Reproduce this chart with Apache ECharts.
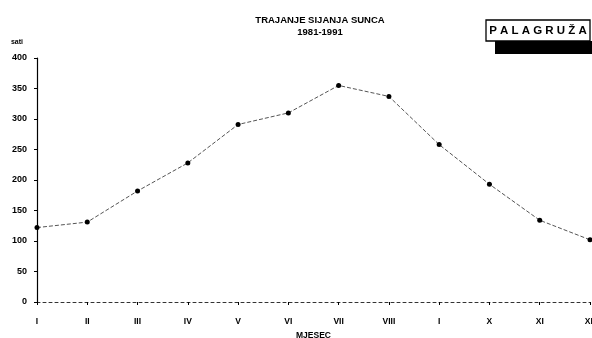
<!DOCTYPE html>
<html>
<head>
<meta charset="utf-8">
<script src="https://cdn.jsdelivr.net/npm/echarts@6/dist/echarts.min.js"></script>
<style>
  html, body { margin: 0; padding: 0; background: #fff; }
  #chart { width: 592px; height: 338px; }
</style>
</head>
<body>
<div id="chart"></div>
<script>
// Monthly sunshine duration (hours), Palagruža 1981-1991
const months = ['I', 'II', 'III', 'IV', 'V', 'VI', 'VII', 'VIII', 'I', 'X', 'XI', 'XII'];
const sunshineHours = [122, 131, 182, 228, 291, 310, 355, 337, 258, 193, 134, 102];
const yTicks = [0, 50, 100, 150, 200, 250, 300, 350, 400];

const FONT = '"Liberation Sans", Arial, sans-serif';

const chart = echarts.init(document.getElementById('chart'), null, { renderer: 'canvas' });

chart.setOption({
  backgroundColor: '#ffffff',
  animation: false,
  title: {
    text: 'TRAJANJE SIJANJA SUNCA\n1981-1991',
    left: 315,
    top: 9,
    textAlign: 'center',
    textStyle: { fontFamily: FONT, fontWeight: 'bold', fontSize: 9.5, color: '#000', lineHeight: 12 }
  },
  grid: { left: 37, right: 2, top: 58, bottom: 36, containLabel: false, outerBoundsMode: 'none' },
  xAxis: {
    type: 'category',
    data: months,
    boundaryGap: false,
    name: 'MJESEC',
    nameLocation: 'middle',
    nameGap: 27,
    nameTextStyle: { fontFamily: FONT, fontWeight: 'bold', fontSize: 8.5, color: '#000' },
    axisLine: { show: true, onZero: true, lineStyle: { color: '#333', width: 1, type: [3, 3] } },
    axisTick: { show: true, alignWithLabel: true, length: 3, lineStyle: { color: '#000' } },
    axisLabel: { margin: 15, fontFamily: FONT, fontWeight: 'bold', fontSize: 8.5, color: '#000', interval: 0, showMaxLabel: true, hideOverlap: false },
    splitLine: { show: false }
  },
  yAxis: {
    type: 'value',
    min: 0,
    max: yTicks[yTicks.length - 1],
    interval: yTicks[1] - yTicks[0],
    name: 'sati',
    nameLocation: 'end',
    nameGap: 12,
    nameTextStyle: { fontFamily: FONT, fontWeight: 'bold', fontSize: 7, color: '#000', align: 'right', padding: [0, 14, 0, 0] },
    axisLine: { show: true, lineStyle: { color: '#000', width: 1.2 } },
    axisTick: { show: true, length: 3, lineStyle: { color: '#000' } },
    axisLabel: { margin: 10, fontFamily: FONT, fontWeight: 'bold', fontSize: 9, color: '#000' },
    splitLine: { show: false }
  },
  series: [{
    type: 'line',
    data: sunshineHours,
    symbol: 'circle',
    symbolSize: 5,
    itemStyle: { color: '#000' },
    lineStyle: { color: '#555', width: 1, type: [4, 2] },
    z: 3
  }],
  graphic: [
    // station badge with drop shadow
    { type: 'rect', shape: { x: 495, y: 41, width: 97, height: 13 }, style: { fill: '#000' } },
    { type: 'rect', shape: { x: 486, y: 20, width: 104, height: 21 }, style: { fill: '#fff', stroke: '#000', lineWidth: 1.3 } },
    {
      type: 'text',
      x: 538, y: 31,
      style: {
        text: 'P A L A G R U Ž A',
        fontFamily: FONT, fontWeight: 'bold', fontSize: 11.5, fill: '#000',
        align: 'center', verticalAlign: 'middle'
      }
    }
  ]
});
</script>
</body>
</html>
